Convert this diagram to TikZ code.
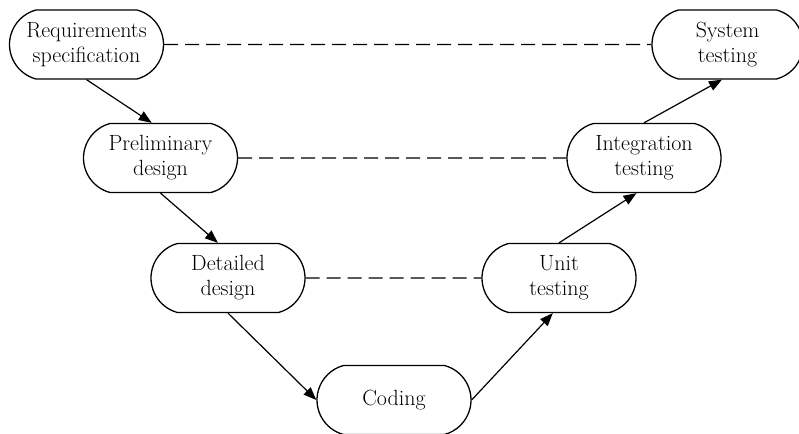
\documentclass[tikz,border=0pt]{standalone}
\usepackage{amsmath}
\usepackage{xcolor}
\usetikzlibrary{calc}
\usetikzlibrary{shapes.misc}
\usetikzlibrary{arrows.meta}

\begin{document}
\begin{tikzpicture}[x=1pt, y=1pt,
    phase/.style={draw=black, line width=1.3pt, rounded rectangle, rounded rectangle arc length=150,
        minimum width=158pt, minimum height=69pt, inner sep=2pt, align=center,
        font=\fontsize{22}{25}\selectfont},
    flow/.style={line width=1.2pt, -{Triangle[length=13pt, width=10pt]}},
    link/.style={line width=1.2pt, dash pattern=on 14pt off 7pt}]
\useasboundingbox (0,0) rectangle (799,433);
\node[phase] (req) at (86.5,388.5) {Requirements\\specification};
\node[phase, minimum width=155pt] (sys) at (727.5,388.5) {System\\testing};
\node[phase] (prelim) at (160.5,275) {Preliminary\\design};
\node[phase] (integ) at (644,275) {Integration\\testing};
\node[phase] (detail) at (228,155) {Detailed\\design};
\node[phase] (unit) at (559,155) {Unit\\testing};
\node[phase] (coding) at (394,33) {Coding};
\draw[link] (req) -- (sys);
\draw[link] (prelim) -- (integ);
\draw[link] (detail) -- (unit);
\draw[flow] (req.south) -- (prelim.104);
\draw[flow] (prelim.south) -- (detail.106);
\draw[flow] (detail.south) -- (coding.west);
\draw[flow] (coding.east) -- (unit.260);
\draw[flow] (unit.north) -- (integ.258);
\draw[flow] (integ.north) -- (sys.261);
\end{tikzpicture}
\end{document}
